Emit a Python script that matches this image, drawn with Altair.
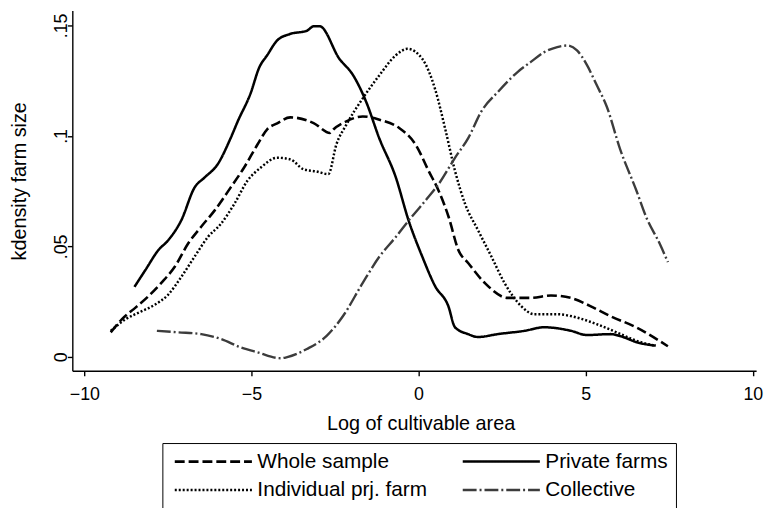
import altair as alt
import pandas as pd

# ---------------- data ----------------
series_order = ["Whole sample", "Private farms", "Individual prj. farm", "Collective"]
line_colors = ["#000000", "#000000", "#000000", "#3c3c3c"]
dash_patterns = [[10, 4], [1, 0], [2, 2], [14, 3, 2, 3]]
line_widths = [2.6, 2.4, 2.0, 2.0]

x_ticks = [-10, -5, 0, 5, 10]
y_ticks = [0, 0.05, 0.1, 0.15]

whole_x = [-9.21, -8.88, -8.47, -8.08, -7.69, -7.29, -6.89, -6.51, -6.10, -5.62, -5.22, -4.82,
           -4.53, -4.23, -3.84, -3.14, -2.65, -2.55, -2.16, -1.67, -1.17, -0.58, -0.09, 0.30,
           0.60, 0.90, 1.19, 1.49, 1.98, 2.67, 3.36, 3.96, 4.55, 5.14, 5.73, 6.52, 7.46]
whole_y = [0.0111, 0.0170, 0.0223, 0.0275, 0.0336, 0.0409, 0.0514, 0.0588, 0.0663, 0.0767, 0.0857, 0.0961,
           0.1030, 0.1057, 0.1084, 0.1058, 0.1013, 0.1029, 0.1066, 0.1088, 0.1073, 0.1036, 0.0961, 0.0842,
           0.0752, 0.0633, 0.0484, 0.0424, 0.0335, 0.0267, 0.0267, 0.0278, 0.0267, 0.0230, 0.0185, 0.0133, 0.0048]

private_x = [-8.50, -8.17, -7.78, -7.49, -7.10, -6.70, -6.40, -6.01, -5.62, -5.41, -5.03, -4.76,
             -4.53, -4.23, -3.85, -3.34, -3.14, -2.96, -2.37, -1.96, -1.57, -1.18, -0.68, -0.30,
             0.11, 0.50, 0.89, 1.09, 1.48, 1.78, 2.37, 3.17, 3.76, 4.56, 5.03, 5.74, 6.12, 6.51, 7.10]
private_y = [0.0317, 0.0394, 0.0484, 0.0528, 0.0618, 0.0767, 0.0812, 0.0872, 0.0991, 0.1066, 0.1191, 0.1312,
             0.1365, 0.1432, 0.1461, 0.1476, 0.1496, 0.1496, 0.1349, 0.1275, 0.1155, 0.0991, 0.0812, 0.0618,
             0.0454, 0.0319, 0.0230, 0.0134, 0.0103, 0.0090, 0.0103, 0.0118, 0.0134, 0.0118, 0.0099, 0.0103,
             0.0090, 0.0067, 0.0051]

indiv_x = [-9.21, -8.77, -8.28, -7.88, -7.49, -7.09, -6.70, -6.30, -5.91, -5.51, -5.12, -4.72,
           -4.23, -3.84, -3.44, -3.05, -2.70, -2.46, -2.16, -1.67, -1.17, -0.68, -0.33, 0.11,
           0.50, 0.80, 1.09, 1.39, 1.78, 2.18, 2.57, 3.07, 3.46, 4.15, 4.74, 5.33, 5.93, 6.52, 7.06]
indiv_y = [0.0118, 0.0170, 0.0207, 0.0237, 0.0282, 0.0364, 0.0454, 0.0543, 0.0603, 0.0693, 0.0797, 0.0857,
           0.0901, 0.0894, 0.0849, 0.0839, 0.0827, 0.0961, 0.1051, 0.1170, 0.1275, 0.1365, 0.1394, 0.1349,
           0.1209, 0.1030, 0.0842, 0.0693, 0.0573, 0.0454, 0.0335, 0.0230, 0.0193, 0.0193, 0.0178, 0.0148,
           0.0111, 0.0073, 0.0051]

coll_x = [-7.83, -7.19, -6.50, -5.91, -5.32, -4.82, -4.13, -3.93, -3.34, -2.75, -2.26, -1.67,
          -1.17, -0.68, -0.29, 0.21, 0.60, 1.09, 1.49, 1.88, 2.38, 2.97, 3.36, 3.76,
          4.15, 4.45, 4.74, 5.04, 5.33, 5.63, 6.03, 6.52, 6.81, 7.21, 7.46]
coll_y = [0.0118, 0.0111, 0.0103, 0.0081, 0.0043, 0.0021, -0.0006, -0.0001, 0.0036, 0.0095, 0.0185, 0.0335,
          0.0454, 0.0543, 0.0618, 0.0708, 0.0782, 0.0901, 0.0991, 0.1111, 0.1200, 0.1290, 0.1335, 0.1379,
          0.1402, 0.1409, 0.1387, 0.1320, 0.1230, 0.1133, 0.0940, 0.0752, 0.0633, 0.0514, 0.0429]

rows = []
for name, xs, ys in [
    ("Whole sample", whole_x, whole_y),
    ("Private farms", private_x, private_y),
    ("Individual prj. farm", indiv_x, indiv_y),
    ("Collective", coll_x, coll_y),
]:
    for a, b in zip(xs, ys):
        rows.append({"series": name, "x": a, "y": b})
df = pd.DataFrame(rows)

FONT = "Liberation Sans"

chart = (
    alt.Chart(df)
    .mark_line(interpolate="monotone")
    .encode(
        x=alt.X(
            "x:Q",
            scale=alt.Scale(domain=[-10.36, 10.1], nice=False, zero=False),
            axis=alt.Axis(
                values=x_ticks,
                title="Log of cultivable area",
                labelPadding=10,
                titleX=352,
                titleY=53,
                titleAlign="center",
                titleBaseline="middle",
            ),
        ),
        y=alt.Y(
            "y:Q",
            scale=alt.Scale(domain=[-0.0063, 0.1567], nice=False, zero=False),
            axis=alt.Axis(
                values=y_ticks,
                title="kdensity farm size",
                labelExpr="datum.value == 0 ? '0' : replace(format(datum.value, '.2~f'), '0.', '.')",
                labelAngle=270,
                labelAlign="center",
                labelBaseline="alphabetic",
                labelPadding=1,
                titleX=-53,
                titleY=172,
                titleAngle=270,
                titleAlign="center",
                titleBaseline="middle",
            ),
        ),
        color=alt.Color("series:N", scale=alt.Scale(domain=series_order, range=line_colors), title=None),
        strokeDash=alt.StrokeDash("series:N", scale=alt.Scale(domain=series_order, range=dash_patterns), title=None),
        strokeWidth=alt.StrokeWidth("series:N", scale=alt.Scale(domain=series_order, range=line_widths), title=None),
    )
    .properties(
        width=691,
        height=364,
        autosize=alt.AutoSizeParams(type="none"),
        padding={"left": 65, "top": 0, "right": 11, "bottom": 136},
        background="white",
    )
    .configure(font=FONT)
    .configure_view(stroke=None)
    .configure_axis(
        grid=False,
        domainColor="black",
        domainWidth=1.4,
        tickColor="black",
        tickWidth=1.4,
        tickSize=5,
        labelFont=FONT,
        labelFontSize=18,
        labelColor="black",
        titleFont=FONT,
        titleFontSize=20,
        titleFontWeight="normal",
        titleColor="black",
    )
    .configure_legend(
        orient="none",
        direction="horizontal",
        legendX=91,
        legendY=437,
        columns=2,
        strokeColor="black",
        padding=8,
        symbolType="M-5,0L5,0",
        symbolSize=243,
        symbolOffset=33,
        labelOffset=34,
        labelFont=FONT,
        labelFontSize=21,
        labelColor="black",
        labelLimit=400,
        columnPadding=30,
        rowPadding=7,
    )
)

chart.save("out.html", embed_options={"renderer": "svg", "actions": False})
